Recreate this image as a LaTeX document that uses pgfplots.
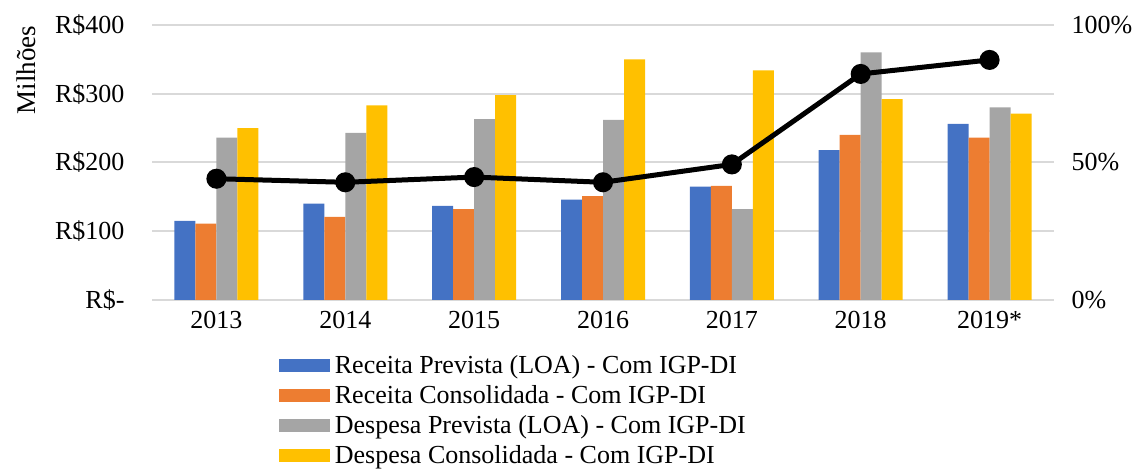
\documentclass[border=0pt]{standalone}
\usepackage{pgfplots}
\pgfplotsset{compat=1.18}
\usepackage{fontspec}
\setmainfont{Liberation Serif}
\definecolor{cblue}{HTML}{4472C4}
\definecolor{corange}{HTML}{ED7D31}
\definecolor{cgray}{HTML}{A5A5A5}
\definecolor{cyellow}{HTML}{FFC000}
\definecolor{cgrid}{HTML}{D9D9D9}
\begin{document}
\begin{tikzpicture}[font=\fontsize{26}{31}\selectfont]
\begin{axis}[
  at={(152pt,170pt)}, anchor=south west,
  scale only axis, width=902pt, height=275pt,
  xmin=-0.5, xmax=6.5, ymin=0, ymax=400,
  ybar=0pt, bar width=21pt,
  xtick={0,1,2,3,4,5,6},
  xticklabels={2013,2014,2015,2016,2017,2018,2019*},
  ytick={0,100,200,300,400},
  yticklabels={R\$-,R\$100,R\$200,R\$300,R\$400},
  axis line style={draw=none},
  major tick length=0pt,
  ymajorgrids, grid style={draw=cgrid, line width=2pt},
  xticklabel style={yshift=-8pt},
  yticklabel style={xshift=-24pt},
  ylabel={\fontsize{27}{31}\selectfont Milhões},
  ylabel style={at={(axis description cs:-0.139,0.836)}, anchor=center, rotate=0},
  legend style={at={(axis description cs:0.141,-0.2)}, anchor=north west,
    draw=none, fill=none, font=\fontsize{26}{31}\selectfont,
    row sep=9.5pt, column sep=4pt, inner sep=0pt,
    nodes={inner sep=0.5pt, anchor=west}},
  legend cell align=left,
  legend image code/.code={\fill[#1] (0pt,-6.5pt) rectangle (51pt,6.5pt);},
]
\addplot[fill=cblue, draw=none] coordinates {(0,115) (1,140) (2,137) (3,146) (4,165) (5,218) (6,256)};
\addplot[fill=corange, draw=none] coordinates {(0,111) (1,121) (2,132) (3,151) (4,166) (5,240) (6,236)};
\addplot[fill=cgray, draw=none] coordinates {(0,236) (1,243) (2,263) (3,262) (4,132) (5,360) (6,280)};
\addplot[fill=cyellow, draw=none] coordinates {(0,250) (1,283) (2,298) (3,350) (4,334) (5,292) (6,271)};
\legend{Receita Prevista (LOA) - Com IGP-DI, Receita Consolidada - Com IGP-DI, Despesa Prevista (LOA) - Com IGP-DI, Despesa Consolidada - Com IGP-DI}
\end{axis}
\begin{axis}[
  at={(152pt,170pt)}, anchor=south west,
  scale only axis, width=902pt, height=275pt,
  xmin=-0.5, xmax=6.5, ymin=0, ymax=100,
  axis x line=none,
  axis y line*=right,
  axis line style={draw=none},
  major tick length=0pt,
  ytick={0,50,100},
  yticklabels={0\%,50\%,100\%},
  yticklabel style={xshift=14pt},
  clip=false,
]
\addplot[black, line width=5pt, mark=*, mark size=7.5pt, mark options={fill=black}] coordinates {(0,44.1) (1,42.8) (2,44.7) (3,42.8) (4,49.3) (5,82.2) (6,87.3)};
\end{axis}
\pgfresetboundingbox
\path (0,0) rectangle (1139pt,470pt);
\end{tikzpicture}
\end{document}
